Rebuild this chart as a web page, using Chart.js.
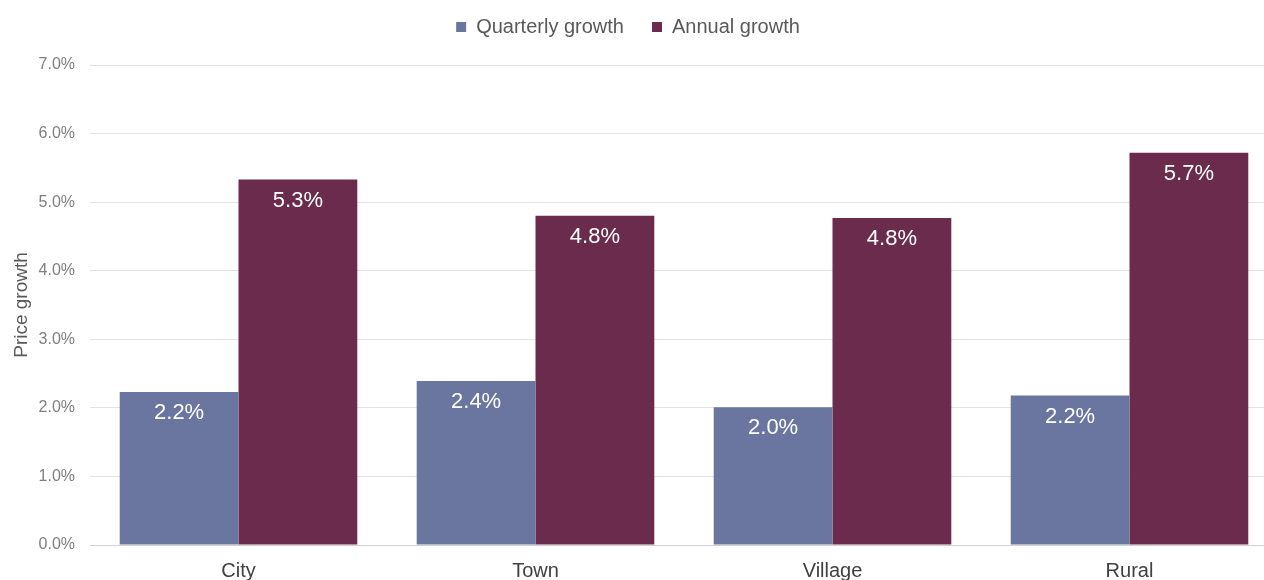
<!DOCTYPE html>
<html>
<head>
<meta charset="utf-8">
<script src="https://cdn.jsdelivr.net/npm/chart.js@4"></script>
<style>
  html, body { margin: 0; padding: 0; background: #fff; overflow: hidden; }
  #wrap { width: 1278px; height: 580px; }
</style>
</head>
<body>
<div id="wrap"><canvas id="growthChart"></canvas></div>
<script>
// Datos
const categories = ['City', 'Town', 'Village', 'Rural'];
const quarterlyGrowth = [2.23, 2.39, 2.01, 2.18];
const annualGrowth = [5.33, 4.80, 4.77, 5.72];
const yTicks = [0, 1, 2, 3, 4, 5, 6, 7];

const FONT = '"Liberation Sans", Arial, sans-serif';

// Etiquetas de valor dentro de la barra, arriba
const barLabels = {
    id: 'barLabels',
    afterDatasetsDraw(chart) {
        const ctx = chart.ctx;
        ctx.save();
        ctx.font = '22px ' + FONT;
        ctx.fillStyle = '#ffffff';
        ctx.textAlign = 'center';
        ctx.textBaseline = 'middle';
        chart.data.datasets.forEach((ds, i) => {
            chart.getDatasetMeta(i).data.forEach((bar, j) => {
                ctx.fillText(ds.data[j].toFixed(1) + '%', bar.x, bar.y + 21);
            });
        });
        ctx.restore();
    }
};

// Ajustes de la leyenda: espacio debajo y un poco a la izquierda
const legendTweak = {
    id: 'legendTweak',
    beforeInit(chart) {
        const fit = chart.legend.fit;
        chart.legend.fit = function () {
            fit.bind(chart.legend)();
            this.height += 18;
        };
    },
    afterLayout(chart) {
        chart.legend.left -= 16;
        chart.legend.right -= 16;
    }
};

new Chart(document.getElementById('growthChart'), {
    type: 'bar',
    data: {
        labels: categories,
        datasets: [
            { label: 'Quarterly growth', data: quarterlyGrowth, backgroundColor: '#6a76a0' },
            { label: 'Annual growth', data: annualGrowth, backgroundColor: '#6b2b4c' }
        ]
    },
    options: {
        responsive: true,
        maintainAspectRatio: false,
        animation: false,
        layout: { padding: { top: -11, right: 0, bottom: 0, left: 10 } },
        datasets: { bar: { categoryPercentage: 0.8, barPercentage: 1.0 } },
        plugins: {
            legend: {
                position: 'top',
                labels: {
                    boxWidth: 10, boxHeight: 10, padding: 28,
                    color: '#595959',
                    font: { family: FONT, size: 20 }
                }
            },
            tooltip: { enabled: false }
        },
        scales: {
            y: {
                min: 0, max: 7,
                afterBuildTicks: (axis) => { axis.ticks = yTicks.map(v => ({ value: v })); },
                afterFit: (s) => { s.width = 80; },
                title: {
                    display: true, text: 'Price growth', color: '#595959',
                    font: { family: FONT, size: 19 },
                    padding: { top: 0, bottom: 10 }
                },
                ticks: {
                    color: '#7f7f7f', padding: 15,
                    font: { family: FONT, size: 16 },
                    callback: (v) => v.toFixed(1) + '%'
                },
                grid: { color: '#e3e3e3', drawTicks: false },
                border: { display: false }
            },
            x: {
                afterFit: (s) => { s.height = 35; },
                ticks: {
                    color: '#404040', padding: 6,
                    font: { family: FONT, size: 20 }
                },
                grid: { display: false },
                border: { color: '#d0d0d0' }
            }
        }
    },
    plugins: [barLabels, legendTweak]
});
</script>
</body>
</html>
